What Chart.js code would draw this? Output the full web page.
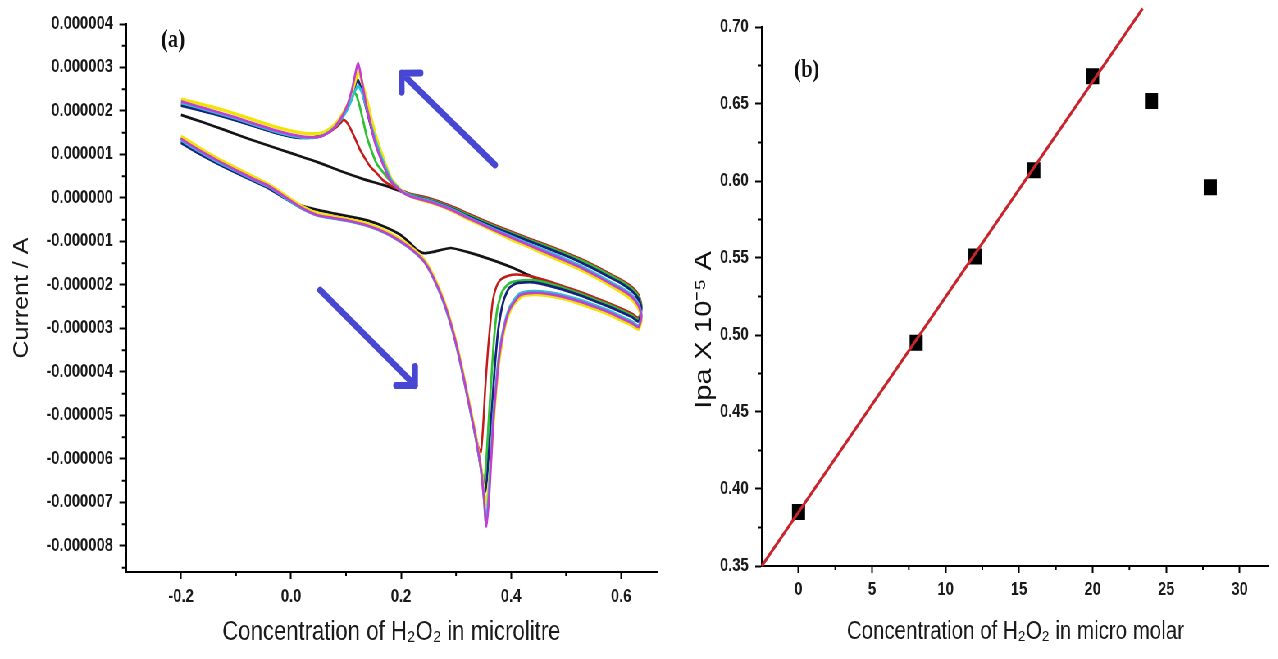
<!DOCTYPE html>
<html>
<head>
<meta charset="utf-8">
<title>H2O2 voltammetry</title>
<script src="https://cdn.jsdelivr.net/npm/chart.js@4.4.1/dist/chart.umd.min.js"></script>
<style>
  html, body { margin: 0; padding: 0; background: #fff; overflow: hidden; }
  #stage { position: absolute; left: 0; top: 0; height: 659px; transform-origin: 0 0; }
  #stage canvas { position: absolute; top: 0; }
</style>
</head>
<body>
<div id="stage">
  <canvas id="chart-cv"></canvas>
  <canvas id="chart-cal"></canvas>
</div>
<script>
// ---- panel (a): CV scans, [potential V, current uA], in scan order ----
const cvXTicks = [-0.2, 0, 0.2, 0.4, 0.6];
const cvXMinor = [-0.1, 0.1, 0.3, 0.5];
const cvYTicks = [4, 3, 2, 1, 0, -1, -2, -3, -4, -5, -6, -7, -8];
const cvYMinor = [3.5, 2.5, 1.5, 0.5, -0.5, -1.5, -2.5, -3.5, -4.5, -5.5, -6.5, -7.5, -8.5];

const cvMagenta = [
  [-0.200,1.36],[-0.170,1.12],[-0.135,0.87],[-0.100,0.64],[-0.070,0.45],[-0.040,0.27],[-0.015,0.06],[0.016,-0.20],
  [0.047,-0.39],[0.076,-0.46],[0.107,-0.53],[0.140,-0.64],[0.170,-0.79],[0.198,-0.99],[0.222,-1.21],[0.242,-1.46],
  [0.260,-1.86],[0.278,-2.40],[0.295,-3.10],[0.310,-3.90],[0.323,-4.70],[0.335,-5.45],[0.345,-6.20],[0.351,-6.95],
  [0.355,-7.55],[0.360,-6.90],[0.364,-6.00],[0.368,-5.10],[0.374,-4.20],[0.380,-3.50],[0.388,-2.95],[0.398,-2.55],
  [0.416,-2.24],[0.440,-2.18],[0.470,-2.21],[0.500,-2.29],[0.530,-2.40],[0.556,-2.52],[0.580,-2.64],[0.600,-2.76],
  [0.620,-2.88],[0.632,-2.97],
  [0.637,-2.72],[0.632,-2.48],[0.620,-2.28],[0.600,-2.10],[0.585,-2.00],[0.560,-1.82],[0.530,-1.62],[0.500,-1.45],
  [0.465,-1.26],[0.430,-1.07],[0.400,-0.91],[0.370,-0.74],[0.344,-0.59],[0.320,-0.45],[0.300,-0.32],[0.280,-0.21],
  [0.260,-0.12],[0.238,-0.04],[0.216,0.04],[0.200,0.16],[0.180,0.41],[0.162,0.94],[0.152,1.30],[0.144,1.73],
  [0.135,2.25],[0.128,2.75],[0.122,3.10],[0.116,2.80],[0.110,2.45],[0.103,2.15],[0.095,1.93],[0.087,1.76],
  [0.076,1.58],[0.065,1.48],[0.053,1.41],[0.030,1.40],[0.004,1.45],[-0.030,1.56],[-0.060,1.68],[-0.100,1.85],
  [-0.140,2.00],[-0.170,2.11],[-0.200,2.22]
];
const cvCyan = [
  [-0.200,1.33],[-0.170,1.09],[-0.135,0.84],[-0.100,0.62],[-0.070,0.43],[-0.040,0.25],[-0.015,0.04],[0.016,-0.22],
  [0.047,-0.40],[0.076,-0.47],[0.107,-0.54],[0.140,-0.65],[0.170,-0.80],[0.198,-1.00],[0.222,-1.22],[0.242,-1.47],
  [0.260,-1.88],[0.278,-2.43],[0.295,-3.13],[0.310,-3.93],[0.323,-4.73],[0.335,-5.48],[0.345,-6.23],[0.351,-6.95],
  [0.354,-7.45],[0.359,-6.85],[0.363,-6.00],[0.367,-5.10],[0.373,-4.20],[0.379,-3.50],[0.387,-2.95],[0.397,-2.52],
  [0.415,-2.20],[0.440,-2.14],[0.470,-2.17],[0.500,-2.25],[0.530,-2.36],[0.556,-2.48],[0.580,-2.60],[0.600,-2.72],
  [0.620,-2.84],[0.632,-2.94],
  [0.637,-2.68],[0.632,-2.44],[0.620,-2.24],[0.600,-2.06],[0.585,-1.96],[0.560,-1.78],[0.530,-1.58],[0.500,-1.41],
  [0.465,-1.22],[0.430,-1.04],[0.400,-0.88],[0.370,-0.72],[0.344,-0.57],[0.320,-0.43],[0.300,-0.30],[0.280,-0.19],
  [0.260,-0.10],[0.238,-0.02],[0.216,0.06],[0.200,0.17],[0.182,0.42],[0.165,0.92],[0.154,1.32],[0.146,1.66],
  [0.137,2.08],[0.129,2.42],[0.122,2.58],[0.116,2.45],[0.109,2.22],[0.101,2.00],[0.093,1.84],[0.084,1.69],
  [0.073,1.56],[0.061,1.46],[0.048,1.40],[0.030,1.38],[0.004,1.42],[-0.030,1.53],[-0.060,1.65],[-0.100,1.82],
  [-0.140,1.97],[-0.170,2.08],[-0.200,2.19]
];
const cvYellow = [
  [-0.200,1.42],[-0.170,1.18],[-0.135,0.92],[-0.100,0.69],[-0.070,0.50],[-0.040,0.31],[-0.015,0.10],[0.016,-0.16],
  [0.047,-0.35],[0.076,-0.43],[0.107,-0.50],[0.140,-0.60],[0.170,-0.75],[0.198,-0.95],[0.222,-1.17],[0.242,-1.42],
  [0.260,-1.82],[0.278,-2.36],[0.295,-3.06],[0.310,-3.86],[0.323,-4.66],[0.335,-5.41],[0.345,-6.16],[0.351,-6.75],
  [0.355,-7.05],[0.360,-6.55],[0.365,-5.70],[0.370,-4.85],[0.376,-4.00],[0.383,-3.35],[0.391,-2.85],[0.402,-2.50],
  [0.420,-2.26],[0.440,-2.22],[0.470,-2.25],[0.500,-2.33],[0.530,-2.45],[0.556,-2.57],[0.580,-2.69],[0.600,-2.81],
  [0.620,-2.93],[0.632,-3.02],
  [0.637,-2.78],[0.632,-2.55],[0.620,-2.34],[0.600,-2.16],[0.585,-2.05],[0.560,-1.87],[0.530,-1.67],[0.500,-1.50],
  [0.465,-1.31],[0.430,-1.11],[0.400,-0.95],[0.370,-0.77],[0.344,-0.61],[0.320,-0.47],[0.300,-0.34],[0.280,-0.22],
  [0.260,-0.13],[0.238,-0.05],[0.216,0.05],[0.200,0.18],[0.182,0.45],[0.166,0.98],[0.155,1.40],[0.146,1.82],
  [0.138,2.25],[0.130,2.62],[0.123,2.90],[0.117,2.70],[0.111,2.42],[0.104,2.17],[0.096,1.98],[0.088,1.82],
  [0.078,1.67],[0.067,1.56],[0.055,1.49],[0.030,1.48],[0.004,1.53],[-0.030,1.64],[-0.060,1.76],[-0.100,1.93],
  [-0.140,2.08],[-0.170,2.18],[-0.200,2.27]
];
const cvNavy = [
  [-0.200,1.27],[-0.170,1.04],[-0.135,0.80],[-0.100,0.58],[-0.070,0.40],[-0.040,0.22],[-0.015,0.02],[0.016,-0.20],
  [0.047,-0.36],[0.076,-0.43],[0.107,-0.50],[0.140,-0.61],[0.170,-0.77],[0.198,-0.97],[0.222,-1.19],[0.242,-1.44],
  [0.260,-1.84],[0.278,-2.38],[0.295,-3.08],[0.310,-3.88],[0.323,-4.68],[0.335,-5.43],[0.345,-6.18],[0.350,-6.55],
  [0.353,-6.75],[0.357,-6.35],[0.361,-5.60],[0.366,-4.70],[0.371,-3.80],[0.377,-3.00],[0.386,-2.38],[0.396,-2.08],
  [0.410,-1.96],[0.440,-1.94],[0.470,-2.02],[0.500,-2.13],[0.530,-2.26],[0.556,-2.39],[0.580,-2.51],[0.600,-2.62],
  [0.620,-2.74],[0.632,-2.84],
  [0.637,-2.55],[0.632,-2.32],[0.620,-2.14],[0.600,-1.96],[0.585,-1.86],[0.560,-1.69],[0.530,-1.50],[0.500,-1.33],
  [0.465,-1.15],[0.430,-0.98],[0.400,-0.83],[0.370,-0.68],[0.344,-0.54],[0.320,-0.41],[0.300,-0.28],[0.280,-0.18],
  [0.260,-0.09],[0.238,-0.01],[0.216,0.07],[0.200,0.18],[0.182,0.40],[0.164,0.90],[0.153,1.30],[0.145,1.65],
  [0.136,2.10],[0.128,2.50],[0.121,2.72],[0.116,2.55],[0.110,2.30],[0.103,2.08],[0.095,1.90],[0.086,1.74],
  [0.075,1.60],[0.063,1.49],[0.050,1.42],[0.030,1.38],[0.004,1.40],[-0.030,1.50],[-0.060,1.62],[-0.100,1.78],
  [-0.140,1.93],[-0.170,2.03],[-0.200,2.12]
];
const cvGreen = [
  [-0.200,1.30],[-0.170,1.07],[-0.135,0.83],[-0.100,0.61],[-0.070,0.42],[-0.040,0.24],[-0.015,0.03],[0.016,-0.21],
  [0.047,-0.38],[0.076,-0.45],[0.107,-0.52],[0.140,-0.63],[0.170,-0.78],[0.198,-0.98],[0.222,-1.20],[0.242,-1.45],
  [0.260,-1.85],[0.278,-2.39],[0.295,-3.09],[0.310,-3.89],[0.323,-4.69],[0.335,-5.44],[0.343,-6.05],[0.348,-6.40],
  [0.351,-6.55],[0.355,-6.05],[0.359,-5.20],[0.364,-4.20],[0.369,-3.25],[0.375,-2.55],[0.384,-2.15],[0.396,-1.97],
  [0.410,-1.91],[0.440,-1.89],[0.470,-1.97],[0.500,-2.09],[0.530,-2.22],[0.556,-2.35],[0.580,-2.47],[0.600,-2.58],
  [0.620,-2.70],[0.632,-2.80],
  [0.637,-2.50],[0.632,-2.27],[0.620,-2.09],[0.600,-1.91],[0.585,-1.81],[0.560,-1.64],[0.530,-1.45],[0.500,-1.29],
  [0.465,-1.11],[0.430,-0.95],[0.400,-0.80],[0.370,-0.65],[0.344,-0.51],[0.320,-0.38],[0.300,-0.26],[0.280,-0.16],
  [0.260,-0.07],[0.238,0.01],[0.216,0.08],[0.200,0.17],[0.185,0.32],[0.170,0.55],[0.156,0.78],[0.146,1.10],
  [0.138,1.40],[0.131,1.78],[0.125,2.10],[0.119,2.36],[0.115,2.42],[0.110,2.28],[0.104,2.10],[0.097,1.94],
  [0.090,1.80],[0.081,1.66],[0.071,1.55],[0.060,1.47],[0.048,1.41],[0.030,1.39],[0.004,1.42],[-0.030,1.52],
  [-0.060,1.64],[-0.100,1.80],[-0.140,1.95],[-0.170,2.06],[-0.200,2.16]
];
const cvRed = [
  [-0.200,1.30],[-0.170,1.06],[-0.135,0.82],[-0.100,0.60],[-0.070,0.41],[-0.040,0.23],[-0.015,0.03],[0.016,-0.20],
  [0.047,-0.37],[0.076,-0.44],[0.107,-0.51],[0.140,-0.62],[0.170,-0.77],[0.198,-0.97],[0.222,-1.19],[0.242,-1.44],
  [0.260,-1.84],[0.278,-2.38],[0.295,-3.08],[0.310,-3.88],[0.323,-4.68],[0.333,-5.30],[0.340,-5.70],[0.345,-5.85],
  [0.349,-5.30],[0.353,-4.40],[0.358,-3.50],[0.363,-2.80],[0.367,-2.35],[0.373,-2.05],[0.380,-1.89],[0.395,-1.79],
  [0.411,-1.76],[0.440,-1.81],[0.470,-1.92],[0.500,-2.05],[0.530,-2.18],[0.556,-2.31],[0.580,-2.43],[0.600,-2.54],
  [0.620,-2.66],[0.632,-2.76],
  [0.637,-2.46],[0.632,-2.23],[0.620,-2.05],[0.600,-1.88],[0.585,-1.78],[0.560,-1.61],[0.530,-1.42],[0.500,-1.26],
  [0.465,-1.08],[0.430,-0.92],[0.400,-0.77],[0.370,-0.62],[0.344,-0.48],[0.320,-0.35],[0.300,-0.23],[0.280,-0.13],
  [0.260,-0.04],[0.238,0.04],[0.216,0.10],[0.200,0.18],[0.185,0.26],[0.167,0.41],[0.155,0.58],[0.144,0.72],
  [0.134,0.92],[0.125,1.12],[0.116,1.38],[0.107,1.62],[0.100,1.76],[0.095,1.80],[0.090,1.72],[0.083,1.63],
  [0.073,1.54],[0.062,1.46],[0.050,1.41],[0.030,1.39],[0.004,1.41],[-0.030,1.51],[-0.060,1.63],[-0.100,1.79],
  [-0.140,1.94],[-0.170,2.04],[-0.200,2.14]
];
// blank run (no H2O2)
const cvBlack = [
  [-0.200,1.38],[-0.160,1.06],[-0.120,0.78],[-0.075,0.48],[-0.040,0.25],[-0.010,0.04],[0.016,-0.16],[0.050,-0.28],
  [0.080,-0.36],[0.107,-0.43],[0.140,-0.52],[0.170,-0.66],[0.198,-0.84],[0.215,-1.02],[0.228,-1.18],[0.242,-1.27],
  [0.258,-1.24],[0.290,-1.15],[0.320,-1.24],[0.360,-1.40],[0.404,-1.61],[0.440,-1.82],[0.500,-2.08],[0.550,-2.33],
  [0.590,-2.52],[0.615,-2.65],[0.632,-2.78],
  [0.635,-2.55],[0.625,-2.20],[0.600,-1.92],[0.560,-1.62],[0.500,-1.30],[0.440,-1.02],[0.380,-0.72],[0.330,-0.45],
  [0.280,-0.20],[0.240,-0.04],[0.220,0.03],[0.198,0.16],[0.167,0.30],[0.130,0.44],[0.090,0.62],[0.047,0.83],
  [0.000,1.03],[-0.040,1.20],[-0.075,1.35],[-0.120,1.56],[-0.160,1.74],[-0.200,1.91]
];

// scan-direction arrows, [V, uA]
const cvArrows = [
  { from: [0.371, 0.76], to: [0.201, 2.87] },
  { from: [0.053, -2.12], to: [0.2255, -4.31] },
];

// ---- panel (b): calibration ----
const concUM = [0, 8, 12, 16, 20, 24, 28];
const ipaVals = [0.385, 0.495, 0.551, 0.607, 0.668, 0.652, 0.596];
const fitX = [-2.5, 23.4];
const fitY = [0.350, 0.712];
const calXTicks = [0, 5, 10, 15, 20, 25, 30];
const calXMinor = [2.5, 7.5, 12.5, 17.5, 22.5, 27.5];
const calYTicks = [0.35, 0.40, 0.45, 0.50, 0.55, 0.60, 0.65, 0.70];
const calYMinor = [0.375, 0.425, 0.475, 0.525, 0.575, 0.625, 0.675];

// the source figure is squeezed horizontally; draw wide then scale down
const SX = 0.82;
const u = px => px / SX;
const STAGE_W = Math.round(u(1278));
const CV_W = Math.round(u(680));

const stage = document.getElementById('stage');
stage.style.width = STAGE_W + 'px';
stage.style.transform = `scaleX(${SX})`;

const cvCanvas = document.getElementById('chart-cv');
cvCanvas.width = CV_W; cvCanvas.height = 659;
cvCanvas.style.left = '0px';
const calCanvas = document.getElementById('chart-cal');
calCanvas.width = STAGE_W - CV_W; calCanvas.height = 659;
calCanvas.style.left = CV_W + 'px';

Chart.defaults.font.family = "'Liberation Sans', Arial, sans-serif";
Chart.defaults.color = '#1a1a1a';

const TICK_FONT = { size: 18, weight: 'bold' };

const fixedTicks = values => axis => { axis.ticks = values.map(value => ({ value })); };

const minorTicks = {
  id: 'minorTicks',
  afterDraw(chart, args, opts) {
    const { ctx, scales: { x, y } } = chart;
    ctx.save();
    ctx.strokeStyle = '#000';
    ctx.lineWidth = 2;
    ctx.beginPath();
    (opts.x || []).forEach(v => {
      const px = x.getPixelForValue(v);
      ctx.moveTo(px, x.top); ctx.lineTo(px, x.top + 4);
    });
    (opts.y || []).forEach(v => {
      const py = y.getPixelForValue(v);
      ctx.moveTo(y.right, py); ctx.lineTo(y.right - 5, py);
    });
    ctx.stroke();
    ctx.restore();
  }
};

const arrows = {
  id: 'arrows',
  afterDatasetsDraw(chart, args, opts) {
    if (!opts.list) return;
    const { ctx, scales: { x, y } } = chart;
    ctx.save();
    ctx.strokeStyle = opts.color;
    ctx.lineWidth = opts.width;
    ctx.lineCap = 'round';
    ctx.lineJoin = 'round';
    opts.list.forEach(a => {
      const x0 = x.getPixelForValue(a.from[0]), y0 = y.getPixelForValue(a.from[1]);
      const x1 = x.getPixelForValue(a.to[0]),   y1 = y.getPixelForValue(a.to[1]);
      const ang = Math.atan2(y1 - y0, (x1 - x0) * SX);
      ctx.beginPath();
      ctx.moveTo(x0, y0); ctx.lineTo(x1, y1);
      [-1, 1].forEach(s => {
        const b = ang + Math.PI + s * Math.PI / 4;
        ctx.moveTo(x1, y1);
        ctx.lineTo(x1 + Math.cos(b) * opts.head / SX, y1 + Math.sin(b) * opts.head);
      });
      ctx.stroke();
    });
    ctx.restore();
  }
};

const freeText = {
  id: 'freeText',
  afterDraw(chart, args, opts) {
    const { ctx } = chart;
    (opts.items || []).forEach(t => {
      ctx.save();
      ctx.translate(t.x, t.y);
      if (t.rotate) ctx.rotate(t.rotate);
      ctx.font = t.font;
      ctx.fillStyle = '#111';
      ctx.textAlign = 'center';
      ctx.textBaseline = 'middle';
      ctx.fillText(t.text, 0, 0);
      ctx.restore();
    });
  }
};

function axisStyle(tickLen) {
  return {
    grid: { display: true, drawOnChartArea: false, drawTicks: true, tickLength: tickLen, tickWidth: 2, tickColor: '#000' },
    border: { display: true, color: '#000', width: 2 },
  };
}

// ---- chart (a) ----
const cvSeries = [
  { data: cvMagenta, color: '#c23fd4', width: 2.7 },
  { data: cvCyan,    color: '#22c4d6', width: 2.7 },
  { data: cvYellow,  color: '#f2e400', width: 3.4 },
  { data: cvNavy,    color: '#16207e', width: 2.7 },
  { data: cvGreen,   color: '#2fbf35', width: 2.7 },
  { data: cvRed,     color: '#c41a1a', width: 2.5 },
  { data: cvBlack,   color: '#141414', width: 2.7 },
];

new Chart(cvCanvas, {
  type: 'scatter',
  data: {
    datasets: cvSeries.map(s => ({
      data: s.data.map(([x, y]) => ({ x, y })),
      borderColor: s.color,
      borderWidth: s.width,
      showLine: true,
      pointRadius: 0,
      tension: 0.2,
      fill: false,
    })),
  },
  options: {
    responsive: false,
    animation: false,
    devicePixelRatio: 1,
    layout: { padding: { top: 24, right: Math.round(CV_W - u(657)), bottom: 0, left: 0 } },
    plugins: {
      legend: { display: false },
      tooltip: { enabled: false },
      minorTicks: { x: cvXMinor, y: cvYMinor },
      arrows: { list: cvArrows, color: '#4747d3', width: 7, head: 19 },
      freeText: { items: [{ text: '(a)', x: u(173), y: 41, font: "bold 25px 'Liberation Serif', serif" }] },
    },
    scales: {
      x: {
        type: 'linear', min: -0.3, max: 0.665,
        ...axisStyle(7),
        afterBuildTicks: fixedTicks(cvXTicks),
        afterFit: s => { s.height = 659 - 572; },
        ticks: { font: TICK_FONT, padding: 7, maxRotation: 0, callback: v => v.toFixed(1) },
        title: { display: true, text: 'Concentration of H₂O₂ in microlitre', font: { size: 27 }, padding: { top: 0, bottom: 10 } },
      },
      y: {
        type: 'linear', min: -8.6, max: 4,
        ...axisStyle(8),
        afterBuildTicks: fixedTicks(cvYTicks),
        afterFit: s => { s.width = u(126); },
        ticks: { font: TICK_FONT, padding: 8, callback: v => (v / 1e6).toFixed(6) },
        title: { display: true, text: 'Current / A', font: { size: 25 }, padding: { top: 12, bottom: 0 } },
      },
    },
  },
  plugins: [minorTicks, arrows, freeText],
});

// ---- chart (b) ----
new Chart(calCanvas, {
  type: 'scatter',
  data: {
    datasets: [
      {
        data: fitX.map((x, i) => ({ x, y: fitY[i] })),
        showLine: true,
        borderColor: '#c9242b',
        borderWidth: 3.2,
        pointRadius: 0,
        clip: false,
      },
      {
        data: concUM.map((x, i) => ({ x, y: ipaVals[i] })),
        pointStyle: 'rect',
        pointRadius: 11.3,
        backgroundColor: '#000',
        borderWidth: 0,
      },
    ],
  },
  options: {
    responsive: false,
    animation: false,
    devicePixelRatio: 1,
    layout: { padding: { top: 27, right: 0, bottom: 0, left: 0 } },
    plugins: {
      legend: { display: false },
      tooltip: { enabled: false },
      minorTicks: { x: calXMinor, y: calYMinor },
      freeText: {
        items: [
          { text: '(b)', x: u(807 - 680), y: 71, font: "bold 25px 'Liberation Serif', serif" },
          { text: 'Ipa X 10⁻⁵ A', x: u(705 - 680), y: 330, rotate: -Math.PI / 2, font: "29px 'Liberation Sans', Arial, sans-serif" },
        ],
      },
    },
    scales: {
      x: {
        type: 'linear', min: -2.5, max: 32,
        ...axisStyle(7),
        afterBuildTicks: fixedTicks(calXTicks),
        afterFit: s => { s.height = 659 - 566; },
        ticks: { font: TICK_FONT, padding: 6, maxRotation: 0, callback: v => String(v) },
        title: { display: true, text: 'Concentration of H₂O₂ in micro molar', font: { size: 25 }, padding: { top: 0, bottom: 12 } },
      },
      y: {
        type: 'linear', min: 0.35, max: 0.70,
        ...axisStyle(8),
        afterBuildTicks: fixedTicks(calYTicks),
        afterFit: s => { s.width = u(762 - 680); },
        ticks: { font: TICK_FONT, padding: 8, callback: v => v.toFixed(2) },
      },
    },
  },
  plugins: [minorTicks, freeText],
});
</script>
</body>
</html>
